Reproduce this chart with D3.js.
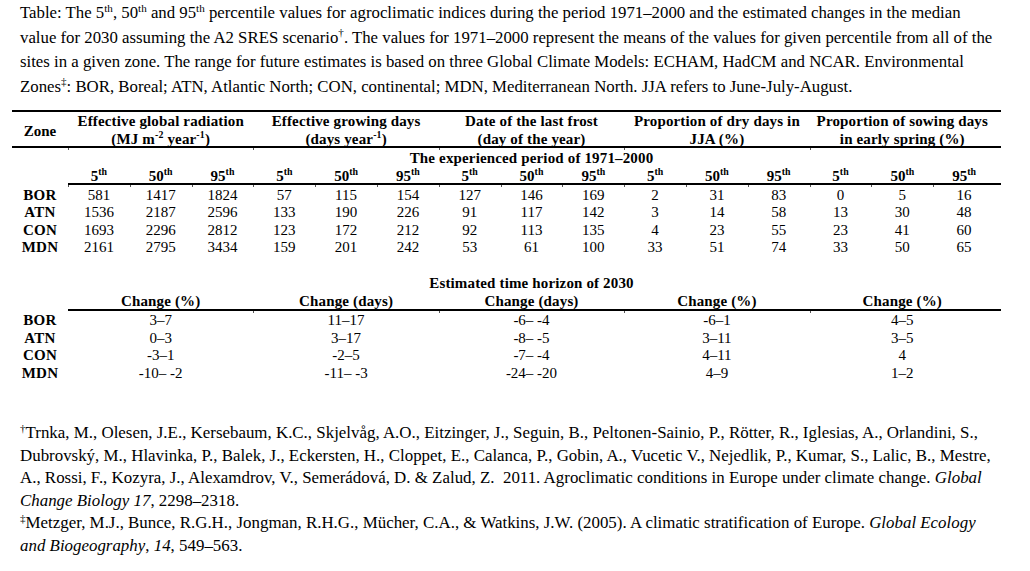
<!DOCTYPE html>
<html>
<head>
<meta charset="utf-8">
<script src="https://cdn.jsdelivr.net/npm/d3@7"></script>
<style>
  html, body { margin: 0; padding: 0; background: #fff; }
  svg { display: block; }
  text { font-family: "Liberation Serif", "Times New Roman", serif; fill: #000; }
</style>
</head>
<body>
<svg id="chart" width="1030" height="571" viewBox="0 0 1030 571"></svg>
<script>
// ---------- data ----------
const zones = ["BOR", "ATN", "CON", "MDN"];
const percentiles = ["5", "50", "95"];
const indexNames = [
  "Effective global radiation",
  "Effective growing days",
  "Date of the last frost",
  "Proportion of dry days in",
  "Proportion of sowing days"
];
const indexUnits = [
  [{t: "(MJ m"}, {t: "-2", sup: true}, {t: " year"}, {t: "-1", sup: true}, {t: ")"}],
  [{t: "(days year"}, {t: "-1", sup: true}, {t: ")"}],
  [{t: "(day of the year)"}],
  [{t: "JJA (%)"}],
  [{t: "in early spring (%)"}]
];
// values per zone: [5th, 50th, 95th]
const radiation   = [[581, 1417, 1824], [1536, 2187, 2596], [1693, 2296, 2812], [2161, 2795, 3434]];
const growingDays = [[57, 115, 154], [133, 190, 226], [123, 172, 212], [159, 201, 242]];
const lastFrost   = [[127, 146, 169], [91, 117, 142], [92, 113, 135], [53, 61, 100]];
const dryDays     = [[2, 31, 83], [3, 14, 58], [4, 23, 55], [33, 51, 74]];
const sowingDays  = [[0, 5, 16], [13, 30, 48], [23, 41, 60], [33, 50, 65]];
// estimated change of the median for 2030, per zone
const changeUnits = ["Change (%)", "Change (days)", "Change (days)", "Change (%)", "Change (%)"];
const radiationChange   = ["3–7", "0–3", "-3–1", "-10– -2"];
const growingDaysChange = ["11–17", "3–17", "-2–5", "-11– -3"];
const lastFrostChange   = ["-6– -4", "-8– -5", "-7– -4", "-24– -20"];
const dryDaysChange     = ["-6–1", "3–11", "4–11", "4–9"];
const sowingDaysChange  = ["4–5", "3–5", "4", "1–2"];

const periodTitle = "The experienced period of 1971–2000";
const horizonTitle = "Estimated time horizon of 2030";

const captionLines = [
  [{t: "Table: The 5"}, {t: "th", sup: true}, {t: ", 50"}, {t: "th", sup: true}, {t: " and 95"}, {t: "th", sup: true},
   {t: " percentile values for agroclimatic indices during the period 1971–2000 and the estimated changes in the median"}],
  [{t: "value for 2030 assuming the A2 SRES scenario"}, {t: "†", sup: true},
   {t: ". The values for 1971–2000 represent the means of the values for given percentile from all of the"}],
  [{t: "sites in a given zone. The range for future estimates is based on three Global Climate Models: ECHAM, HadCM and NCAR. Environmental"}],
  [{t: "Zones"}, {t: "‡", sup: true}, {t: ": BOR, Boreal; ATN, Atlantic North; CON, continental; MDN, Mediterranean North. JJA refers to June-July-August."}]
];
const footnoteLines = [
  [{t: "†", sup: true}, {t: "Trnka, M., Olesen, J.E., Kersebaum, K.C., Skjelvåg, A.O., Eitzinger, J., Seguin, B., Peltonen-Sainio, P., Rötter, R., Iglesias, A., Orlandini, S.,"}],
  [{t: "Dubrovský, M., Hlavinka, P., Balek, J., Eckersten, H., Cloppet, E., Calanca, P., Gobin, A., Vucetic V., Nejedlik, P., Kumar, S., Lalic, B., Mestre,"}],
  [{t: "A., Rossi, F., Kozyra, J., Alexamdrov, V., Semerádová, D. & Zalud, Z.\u00a0\u00a02011. Agroclimatic conditions in Europe under climate change. "}, {t: "Global", it: true}],
  [{t: "Change Biology 17", it: true}, {t: ", 2298–2318."}],
  [{t: "‡", sup: true}, {t: "Metzger, M.J., Bunce, R.G.H., Jongman, R.H.G., Mücher, C.A., & Watkins, J.W. (2005). A climatic stratification of Europe. "}, {t: "Global Ecology", it: true}],
  [{t: "and Biogeography", it: true}, {t: ", "}, {t: "14", it: true}, {t: ", 549–563."}]
];

// ---------- assemble ----------
const values = [radiation, growingDays, lastFrost, dryDays, sowingDays];
const changes = [radiationChange, growingDaysChange, lastFrostChange, dryDaysChange, sowingDaysChange];
const columns = [];
indexNames.forEach((name, gi) => percentiles.forEach((p, pi) => columns.push({gi, pi, key: gi + "-" + pi})));

const svg = d3.select("#chart");

const xCol = d3.scaleBand().domain(columns.map(c => c.key)).range([68, 995]);
const xGroup = d3.scaleBand().domain(indexNames).range([68, 995]);
const zoneX = 40;
const lineX0 = 12, lineX1 = 1001;

const yTop = d3.scalePoint().domain(zones).range([199.5, 252]);
const yBottom = d3.scalePoint().domain(zones).range([325, 377.5]);

function rich(sel, parts, size) {
  parts.forEach((p, i) => {
    const ts = sel.append("tspan").text(p.t);
    if (p.it) ts.attr("font-style", "italic");
    if (p.sup) {
      ts.attr("font-size", size * 0.66).attr("dy", -size * 0.38);
    } else if (i > 0 && parts[i - 1].sup) {
      ts.attr("dy", size * 0.38);
    }
  });
  return sel;
}

// table rules with small marks at cell borders
const ruleLayer = svg.append("g").attr("id", "rules").attr("shape-rendering", "crispEdges");
function drawRule(y, x0, x1, ticks) {
  ruleLayer.append("rect")
    .attr("x", x0).attr("y", Math.round(y) - 1).attr("width", x1 - x0).attr("height", 2)
    .attr("fill", "#000");
  (ticks || []).forEach(tx => {
    ruleLayer.append("rect")
      .attr("x", Math.round(tx)).attr("y", Math.round(y) + 1).attr("width", 1).attr("height", 2)
      .attr("fill", "#555");
  });
}

const boldSpacing = 0.15;

// caption
const capY = [18, 42.5, 67, 91.5];
captionLines.forEach((parts, i) => {
  rich(svg.append("text").attr("x", 20).attr("y", capY[i]).attr("font-size", 16.8), parts, 16.8);
});

// ---------- top table ----------
const groupBounds = indexNames.slice(1).map(n => xGroup(n));
const colBounds = columns.slice(1).map(c => xCol(c.key));

drawRule(111, lineX0, lineX1);
drawRule(147, lineX0, lineX1, [68].concat(groupBounds));
drawRule(184, 68, lineX1, [68].concat(colBounds));

svg.append("text").attr("x", zoneX).attr("y", 136).attr("text-anchor", "middle")
  .attr("font-weight", "bold").attr("font-size", 15).text("Zone");

indexNames.forEach((name, gi) => {
  const cx = xGroup(name) + xGroup.bandwidth() / 2;
  svg.append("text").attr("x", cx).attr("y", 126).attr("text-anchor", "middle")
    .attr("font-weight", "bold").attr("font-size", 15).attr("letter-spacing", boldSpacing).text(name);
  rich(svg.append("text").attr("x", cx).attr("y", 143.5).attr("text-anchor", "middle")
    .attr("font-weight", "bold").attr("font-size", 15).attr("letter-spacing", boldSpacing), indexUnits[gi], 15);
});

svg.append("text").attr("x", xGroup(indexNames[2]) + xGroup.bandwidth() / 2).attr("y", 163)
  .attr("text-anchor", "middle").attr("font-weight", "bold").attr("font-size", 15).attr("letter-spacing", boldSpacing)
  .text(periodTitle);

columns.forEach(c => {
  rich(svg.append("text").attr("x", xCol(c.key) + xCol.bandwidth() / 2).attr("y", 180.5)
    .attr("text-anchor", "middle").attr("font-weight", "bold").attr("font-size", 15),
    [{t: percentiles[c.pi]}, {t: "th", sup: true}], 15);
});

zones.forEach((z, zi) => {
  svg.append("text").attr("x", zoneX).attr("y", yTop(z)).attr("text-anchor", "middle")
    .attr("font-weight", "bold").attr("font-size", 15).attr("letter-spacing", 0.3).text(z);
  columns.forEach(c => {
    svg.append("text").attr("x", xCol(c.key) + xCol.bandwidth() / 2).attr("y", yTop(z))
      .attr("text-anchor", "middle").attr("font-size", 15).text(values[c.gi][zi][c.pi]);
  });
});

// ---------- bottom table ----------
svg.append("text").attr("x", xGroup(indexNames[2]) + xGroup.bandwidth() / 2).attr("y", 288)
  .attr("text-anchor", "middle").attr("font-weight", "bold").attr("font-size", 15).attr("letter-spacing", boldSpacing)
  .text(horizonTitle);

indexNames.forEach((name, gi) => {
  const cx = xGroup(name) + xGroup.bandwidth() / 2;
  svg.append("text").attr("x", cx).attr("y", 306).attr("text-anchor", "middle")
    .attr("font-weight", "bold").attr("font-size", 15).attr("letter-spacing", boldSpacing).text(changeUnits[gi]);
});
drawRule(309.5, 68, lineX1, groupBounds);

zones.forEach((z, zi) => {
  svg.append("text").attr("x", zoneX).attr("y", yBottom(z)).attr("text-anchor", "middle")
    .attr("font-weight", "bold").attr("font-size", 15).attr("letter-spacing", 0.3).text(z);
  indexNames.forEach((name, gi) => {
    svg.append("text").attr("x", xGroup(name) + xGroup.bandwidth() / 2).attr("y", yBottom(z))
      .attr("text-anchor", "middle").attr("font-size", 15).text(changes[gi][zi]);
  });
});

// footnotes
const footY = [438, 460.5, 483, 505.5, 528, 550.5];
footnoteLines.forEach((parts, i) => {
  rich(svg.append("text").attr("x", 20).attr("y", footY[i]).attr("font-size", 16.9), parts, 16.9);
});
</script>
</body>
</html>
